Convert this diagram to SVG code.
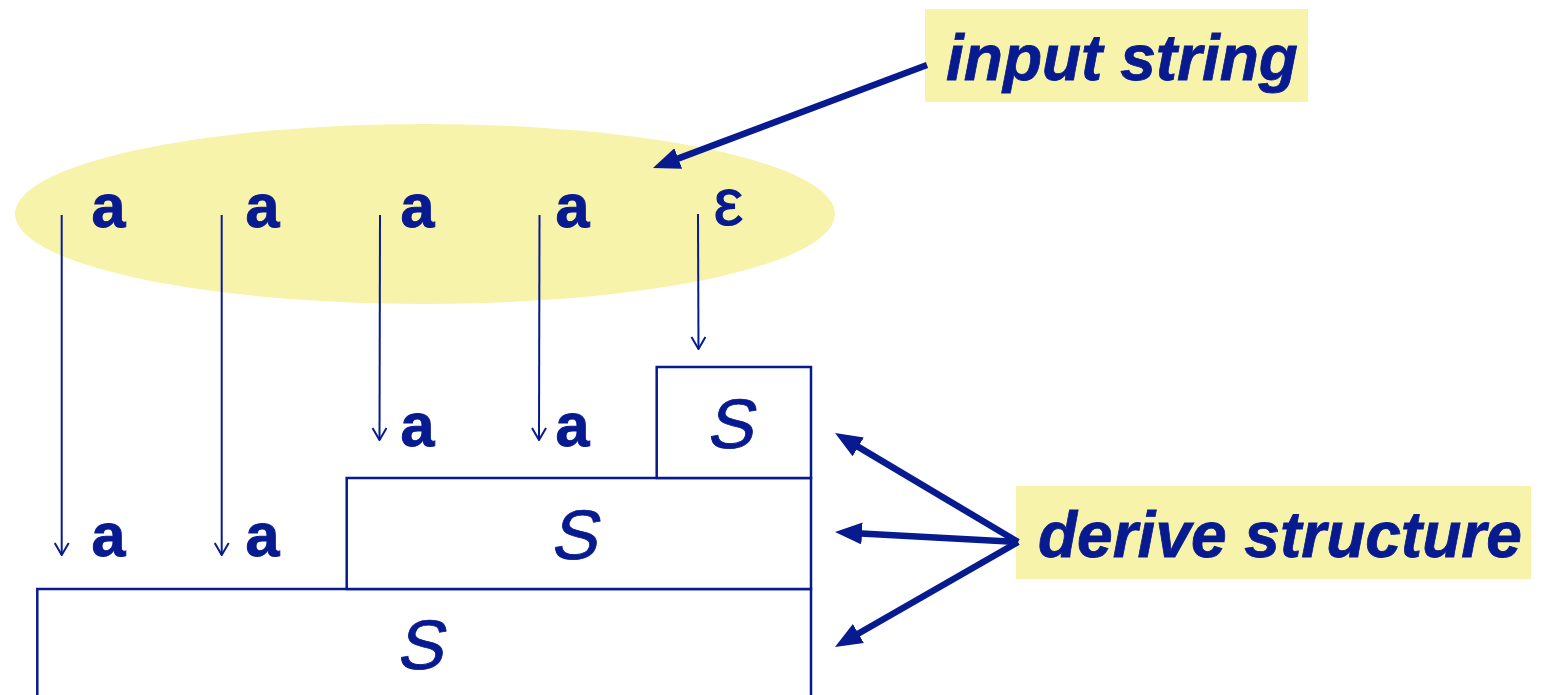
<svg xmlns="http://www.w3.org/2000/svg" width="1550" height="695" viewBox="0 0 1550 695">
<style>
.sym{font-family:"Liberation Sans",Arial,sans-serif;font-weight:bold;font-size:61px;fill:#071a8f;stroke:#071a8f;stroke-width:1;text-anchor:middle}
.eps{font-family:"Liberation Sans",Arial,sans-serif;font-size:66px;fill:#071a8f;stroke:#071a8f;stroke-width:1.2;text-anchor:middle}
.ess{font-family:"Liberation Sans",Arial,sans-serif;font-size:70px;fill:#071a8f;stroke:#071a8f;stroke-width:0.8;text-anchor:middle}
.lbl{font-family:"Liberation Sans",Arial,sans-serif;font-style:italic;font-weight:bold;font-size:64px;fill:#071a8f;stroke:#071a8f;stroke-width:0.8}
.box{fill:#fff;stroke:#071a8f;stroke-width:2.5}
.thin{stroke:#071a8f;stroke-width:2;fill:none;marker-end:url(#open)}
.thick{stroke:#071a8f;stroke-width:6.5;fill:none;marker-end:url(#solid)}
</style>
<defs>
<marker id="open" viewBox="0 0 14 16" refX="13" refY="8" markerWidth="14" markerHeight="16" markerUnits="userSpaceOnUse" orient="auto">
<path d="M1,1 L13,8 L1,15" fill="none" stroke="#071a8f" stroke-width="2"/>
</marker>
<marker id="solid" viewBox="0 0 10 10" refX="2" refY="5" markerWidth="27" markerHeight="22" markerUnits="userSpaceOnUse" orient="auto" preserveAspectRatio="none">
<path d="M0,0 L10,5 L0,10 z" fill="#071a8f"/>
</marker>
</defs>
<rect width="1550" height="695" fill="#fff"/>
<g id="input">
<ellipse cx="425" cy="214" rx="410" ry="90" fill="#f7f3aa"/>
<text class="sym" x="108.5" y="227">a</text>
<text class="sym" x="262.5" y="227">a</text>
<text class="sym" x="417.5" y="227">a</text>
<text class="sym" x="572.5" y="227">a</text>
<text class="eps" x="728.5" y="225">ε</text>
</g>
<g id="label-input">
<rect x="925" y="9" width="383" height="93" fill="#f7f3aa"/>
<text class="lbl" x="946" y="80">input string</text>
</g>
<g id="label-derive">
<rect x="1016" y="486" width="515" height="93" fill="#f7f3aa"/>
<text class="lbl" x="1038" y="557">derive structure</text>
</g>
<g id="S3">
<rect class="box" x="37.3" y="589" width="773.7" height="120"/>
<text class="ess" transform="translate(419,669) skewX(-12)">S</text>
</g>
<g id="S2">
<rect class="box" x="346.7" y="478" width="464.3" height="111"/>
<text class="ess" transform="translate(573,559) skewX(-12)">S</text>
</g>
<g id="S1">
<rect class="box" x="656.7" y="367" width="154.3" height="111"/>
<text class="ess" transform="translate(729,448) skewX(-12)">S</text>
</g>
<g id="row2">
<text class="sym" x="417.5" y="446">a</text>
<text class="sym" x="572.5" y="446">a</text>
</g>
<g id="row3">
<text class="sym" x="108.5" y="556">a</text>
<text class="sym" x="262.5" y="556">a</text>
</g>
<g id="connectors">
<line class="thin" x1="61.7" y1="215" x2="61.7" y2="555"/>
<line class="thin" x1="221.7" y1="215" x2="221.7" y2="555"/>
<line class="thin" x1="380" y1="215" x2="379.5" y2="440"/>
<line class="thin" x1="539.5" y1="215" x2="539" y2="440"/>
<line class="thin" x1="698" y1="214" x2="698.5" y2="349"/>
<line class="thick" x1="927" y1="65" x2="673.2" y2="160.4"/>
<line class="thick" x1="1018" y1="542" x2="853.6" y2="444.1"/>
<line class="thick" x1="1018" y1="542" x2="856.6" y2="533.2"/>
<line class="thick" x1="1018" y1="542" x2="853.7" y2="636.2"/>
</g>
</svg>
